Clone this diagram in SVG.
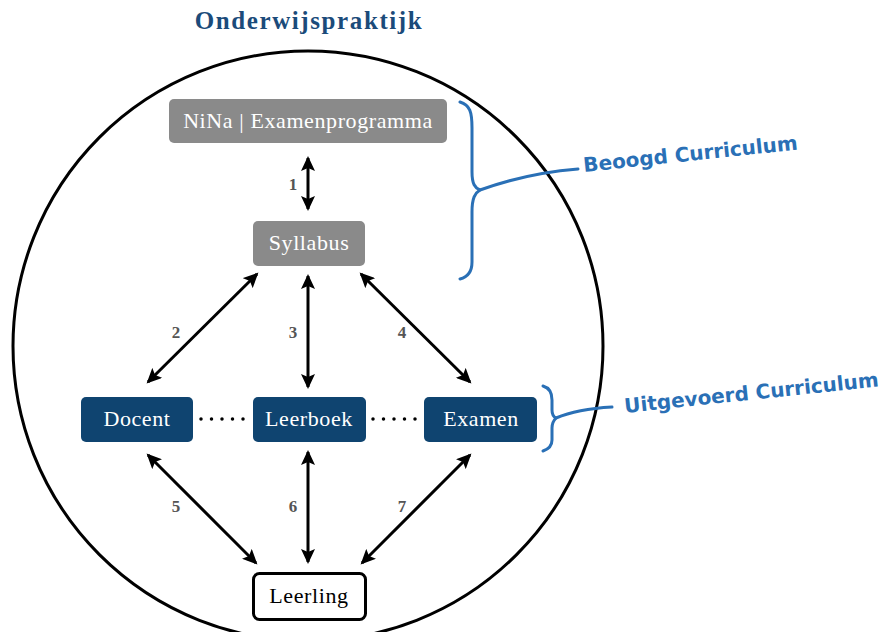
<svg xmlns="http://www.w3.org/2000/svg" width="883" height="632" viewBox="0 0 883 632">
  <style>
    .title { font-family: "Liberation Serif", "DejaVu Serif", serif; font-weight: bold; font-size: 25px; letter-spacing: 1.6px; fill: #1b4b7a; }
    .lbl { font-family: "Liberation Serif", "DejaVu Serif", serif; font-size: 22px; letter-spacing: 0.6px; text-anchor: middle; }
    .white { fill: #ffffff; }
    .black { fill: #000000; }
    .grey { fill: #8a8a8a; }
    .navy { fill: #0f4470; }
    .num { font-family: "Liberation Serif", "DejaVu Serif", serif; font-weight: bold; font-size: 17px; fill: #555555; text-anchor: middle; }
    .arrow { stroke: #000; stroke-width: 3; fill: none; marker-start: url(#head); marker-end: url(#head); }
    .dots { stroke: #000; stroke-width: 3.5; stroke-linecap: round; stroke-dasharray: 0 10.5; fill: none; }
    .brace { stroke: #2a70b6; stroke-width: 3; fill: none; stroke-linecap: round; stroke-linejoin: round; }
    .hand { font-family: "Comic Sans MS", "DejaVu Sans", cursive; font-weight: bold; font-size: 20px; fill: #2a70b6; }
  </style>
  <defs>
    <marker id="head" markerUnits="userSpaceOnUse" markerWidth="16" markerHeight="14" refX="13" refY="7" orient="auto-start-reverse">
      <path d="M0,0 L15,7 L0,14 L3,7 Z" fill="#000"/>
    </marker>
  </defs>

  <rect width="883" height="632" fill="#ffffff"/>

  <text class="title" x="309" y="29" text-anchor="middle">Onderwijspraktijk</text>

  <!-- outer circle -->
  <circle cx="308" cy="346" r="295" fill="none" stroke="#000" stroke-width="3"/>

  <!-- connectors -->
  <g id="connectors">
    <line class="arrow" x1="308" y1="158" x2="308" y2="209"/>
    <line class="arrow" x1="257" y1="274" x2="148" y2="382"/>
    <line class="arrow" x1="308" y1="276" x2="308" y2="387"/>
    <line class="arrow" x1="361" y1="274" x2="470" y2="382"/>
    <line class="arrow" x1="148" y1="455" x2="256" y2="563"/>
    <line class="arrow" x1="308" y1="452" x2="308" y2="562"/>
    <line class="arrow" x1="470" y1="455" x2="362" y2="563"/>
    <line class="dots" x1="201" y1="419" x2="245" y2="419"/>
    <line class="dots" x1="373" y1="419" x2="417" y2="419"/>
    <text class="num" x="293" y="190">1</text>
    <text class="num" x="176" y="338">2</text>
    <text class="num" x="293" y="338">3</text>
    <text class="num" x="402" y="338">4</text>
    <text class="num" x="176" y="512">5</text>
    <text class="num" x="293" y="512">6</text>
    <text class="num" x="402" y="512">7</text>
  </g>

  <!-- nodes -->
  <g id="examenprogramma">
    <rect x="169" y="99" width="278" height="44" rx="5" class="grey"/>
    <text class="lbl white" x="308" y="128">NiNa | Examenprogramma</text>
  </g>
  <g id="syllabus">
    <rect x="253" y="221" width="112" height="45" rx="5" class="grey"/>
    <text class="lbl white" x="309" y="250">Syllabus</text>
  </g>
  <g id="docent">
    <rect x="81" y="397" width="112" height="45" rx="5" class="navy"/>
    <text class="lbl white" x="137" y="426">Docent</text>
  </g>
  <g id="leerboek">
    <rect x="253" y="397" width="113" height="45" rx="5" class="navy"/>
    <text class="lbl white" x="309" y="426">Leerboek</text>
  </g>
  <g id="examen">
    <rect x="424" y="397" width="113" height="45" rx="5" class="navy"/>
    <text class="lbl white" x="481" y="426">Examen</text>
  </g>
  <g id="leerling">
    <rect x="253.5" y="573.5" width="112" height="46" rx="6" fill="#fff" stroke="#000" stroke-width="3"/>
    <text class="lbl black" x="309" y="603">Leerling</text>
  </g>

  <!-- curriculum braces -->
  <g id="beoogd">
    <path class="brace" d="M460,102 C470,105 472,112 472,128 L472,172 C472,184 475,188 480,190 C475,193 472,198 472,212 L472,262 C472,272 468,277 460,279"/>
    <path class="brace" d="M480,190 C505,181 540,172 578,169"/>
    <text class="hand" transform="translate(584,172) rotate(-6)">Beoogd Curriculum</text>
  </g>
  <g id="uitgevoerd">
    <path class="brace" d="M543,386 C550,388 552,393 552,400 L552,410 C552,415 554,417 556,418 C554,420 552,422 552,428 L552,440 C552,446 549,449 543,451"/>
    <path class="brace" d="M556,418 C575,410 595,408 612,407"/>
    <text class="hand" transform="translate(625,413) rotate(-6)">Uitgevoerd Curriculum</text>
  </g>
</svg>
